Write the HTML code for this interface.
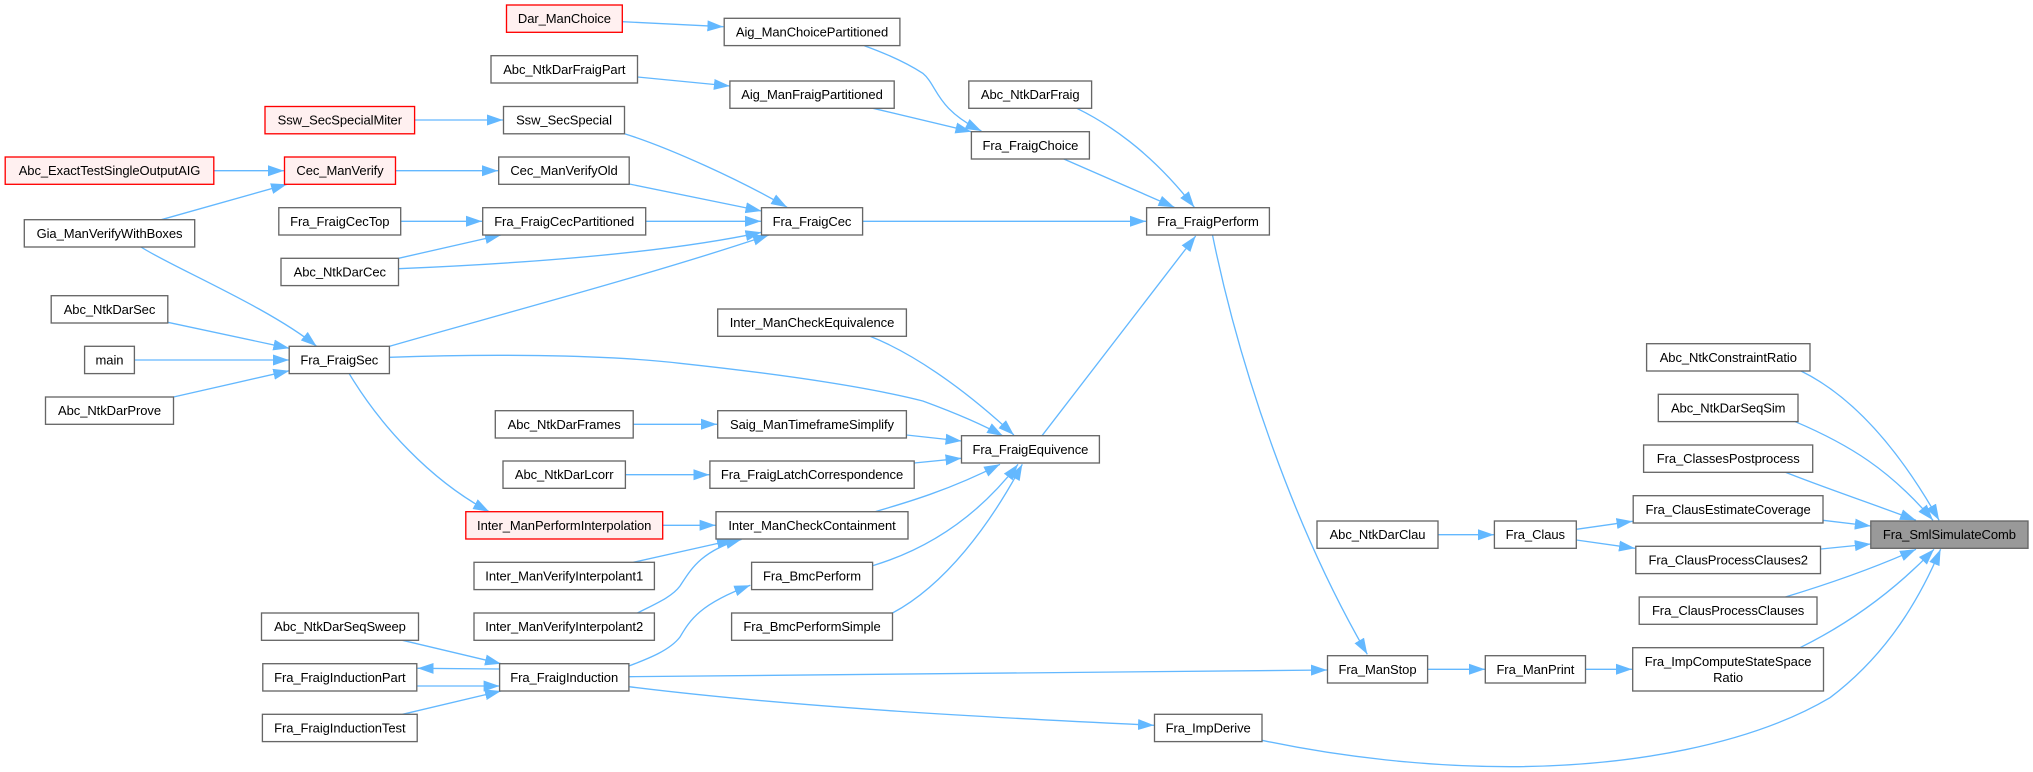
<!DOCTYPE html>
<html><head><meta charset="utf-8"><style>
html,body{margin:0;padding:0;background:#fff;width:2033px;height:772px;overflow:hidden}
svg{display:block}
text{font-family:"Liberation Sans",Arial,sans-serif;font-size:13px;letter-spacing:-.07px;fill:#000;text-anchor:middle}
.e path{fill:none;stroke:#63b8ff;stroke-width:1.33;marker-end:url(#a)}
.n rect{fill:#fff;stroke:#666;stroke-width:1.33}
.n rect.r{fill:#fff0f0;stroke:#f00}
.n rect.t{fill:#999;stroke:#666}
</style></head><body>
<svg xmlns="http://www.w3.org/2000/svg" width="2033" height="772" viewBox="0 0 2033 772">
<defs><marker id="a" markerUnits="userSpaceOnUse" markerWidth="17" markerHeight="13" refX="16" refY="6" orient="auto"><path d="M0 .5L16 6L0 11.5Z" fill="#63b8ff" stroke="none"/></marker></defs>
<g class="e">
<path d="M622.5 21.7L723.4 26.7"/>
<path d="M637.5 77L729.9 86"/>
<path d="M414.6 120L503 120"/>
<path d="M213.8 170.7L284 170.7"/>
<path d="M395.5 170.7L498 170.7"/>
<path d="M161.3 219.7L287 184.3"/>
<path d="M141 247C170 266 270 308 316.6 346.3"/>
<path d="M167.8 322.3L289.3 348.3"/>
<path d="M134.4 360L289 360"/>
<path d="M173.5 397L289.3 370.7"/>
<path d="M400.7 221.3L482 221.3"/>
<path d="M398.5 258.3L501 235"/>
<path d="M398.5 268.7C510 264 660 254 761.5 232.3"/>
<path d="M624.5 133.7C670 148 740 180 787.1 207.3"/>
<path d="M629.3 184L761.5 211"/>
<path d="M645.7 221.3L761 221.3"/>
<path d="M389.4 346.3C480 320 650 275 768.9 235"/>
<path d="M389.4 357.3C480 354 600 354 680 363.3C770 373 860 385 922.8 401C950 411 980 423 1003 436"/>
<path d="M870 336.3C910 352 960 385 1013.9 435"/>
<path d="M633.2 424.3L717 424.3"/>
<path d="M625.4 474.7L709.5 474.7"/>
<path d="M906.4 435L961.5 441"/>
<path d="M914.2 463L961.5 458.3"/>
<path d="M875.1 511.7C905 503 950 490 1000 464.3"/>
<path d="M872.6 565.7C925 550 975 520 1018 464.3"/>
<path d="M892.5 613C945 585 990 525 1022.3 464.3"/>
<path d="M1042 435.7L1195.7 236"/>
<path d="M862.6 221.3L1146 221.3"/>
<path d="M1063.8 159L1174.4 207.3"/>
<path d="M1076.8 108.3C1105 122 1150 150 1194.3 207.3"/>
<path d="M864.3 45.7C890 55 910 65 922.8 73.3C938 86 935 108 981.4 131"/>
<path d="M873 108.3L971.4 131.7"/>
<path d="M1212.5 235C1240 370 1295 530 1367.3 654.3"/>
<path d="M1427.6 669.3L1485 669.3"/>
<path d="M1585.5 669.3L1632 669.3"/>
<path d="M628.9 676.7L1327 670"/>
<path d="M628.9 686.7C800 708 1000 718 1154 725.3"/>
<path d="M1262 740.3C1340 757 1430 767 1513.5 766.7C1630 766 1750 745 1830 697.7C1880 660 1915 610 1940.6 549.3"/>
<path d="M1801 371C1860 400 1905 460 1939.1 520.3"/>
<path d="M1795.3 421.7C1850 445 1890 470 1933 520.3"/>
<path d="M1785.4 472.3C1825 488 1870 503 1916 520.3"/>
<path d="M1823 520.3L1870.8 526"/>
<path d="M1821 549L1870.8 544"/>
<path d="M1785.4 597C1825 585 1870 570 1916 549.3"/>
<path d="M1800 647.7C1850 623 1895 590 1934 549.3"/>
<path d="M1576.3 529.3L1632.5 521.3"/>
<path d="M1576.3 540L1635 548.3"/>
<path d="M1438 534.7L1494 534.7"/>
<path d="M662.7 525.3L715.6 525.3"/>
<path d="M633.2 562.3L733 540"/>
<path d="M637.5 613C655 604 672 597 680 586C690 571 700 551 741.6 539.3"/>
<path d="M628.9 666C650 658 670 650 680 637C690 620 700 604 750.3 585.3"/>
<path d="M402.5 640.3L501 663.7"/>
<path d="M499.6 669L417.6 668.3"/>
<path d="M416.8 686L499.6 686"/>
<path d="M402.5 714.3L501 691"/>
<path d="M349 373.3C380 425 430 480 489.2 511.7"/>
</g>
<g class="n">
<rect class="r" x="506.5" y="5" width="115.8" height="27.3"/><text x="564.4" y="23.2">Dar_ManChoice</text>
<rect x="491" y="55.7" width="146.5" height="27.3"/><text x="564.3" y="73.8">Abc_NtkDarFraigPart</text>
<rect class="r" x="265" y="106.5" width="149.6" height="27.3"/><text x="339.8" y="124.5">Ssw_SecSpecialMiter</text>
<rect x="503.5" y="106.5" width="121" height="27.3"/><text x="564" y="124.5">Ssw_SecSpecial</text>
<rect class="r" x="5.2" y="157" width="208.6" height="27.3"/><text x="109.5" y="175.2">Abc_ExactTestSingleOutputAIG</text>
<rect class="r" x="284.5" y="157" width="111" height="27.3"/><text x="340" y="175.2">Cec_ManVerify</text>
<rect x="498.7" y="157" width="130.5" height="27.3"/><text x="564" y="175.2">Cec_ManVerifyOld</text>
<rect x="24.3" y="219.7" width="170.4" height="27.3"/><text x="109.5" y="237.8">Gia_ManVerifyWithBoxes</text>
<rect x="278.8" y="207.7" width="121.9" height="27.3"/><text x="339.8" y="225.8">Fra_FraigCecTop</text>
<rect x="482.7" y="207.7" width="163" height="27.3"/><text x="564.2" y="225.8">Fra_FraigCecPartitioned</text>
<rect x="281" y="258.3" width="117.5" height="27.3"/><text x="339.8" y="276.5">Abc_NtkDarCec</text>
<rect x="51.2" y="295.7" width="116.6" height="27.3"/><text x="109.5" y="313.8">Abc_NtkDarSec</text>
<rect x="84.6" y="346.3" width="49.8" height="27.3"/><text x="109.5" y="364.5">main</text>
<rect x="289.2" y="346.3" width="100.2" height="27.3"/><text x="339.3" y="364.5">Fra_FraigSec</text>
<rect x="45.5" y="397" width="128" height="27.3"/><text x="109.5" y="415.2">Abc_NtkDarProve</text>
<rect x="495.3" y="410.7" width="137.9" height="27.3"/><text x="564.2" y="428.8">Abc_NtkDarFrames</text>
<rect x="503" y="461" width="122.4" height="27.3"/><text x="564.2" y="479.2">Abc_NtkDarLcorr</text>
<rect class="r" x="465.8" y="511.7" width="196.9" height="27.3"/><text x="564.2" y="529.8">Inter_ManPerformInterpolation</text>
<rect x="474" y="562.3" width="180.4" height="27.3"/><text x="564.2" y="580.5">Inter_ManVerifyInterpolant1</text>
<rect x="474" y="613" width="180.4" height="27.3"/><text x="564.2" y="631.2">Inter_ManVerifyInterpolant2</text>
<rect x="261.5" y="613" width="157" height="27.3"/><text x="340" y="631.2">Abc_NtkDarSeqSweep</text>
<rect x="262.8" y="663.7" width="154" height="27.3"/><text x="339.8" y="681.8">Fra_FraigInductionPart</text>
<rect x="499.6" y="663.7" width="129.3" height="27.3"/><text x="564.2" y="681.8">Fra_FraigInduction</text>
<rect x="262.4" y="714.3" width="154.8" height="27.3"/><text x="339.8" y="732.5">Fra_FraigInductionTest</text>
<rect x="724.2" y="18.3" width="175.7" height="27.3"/><text x="812" y="36.5">Aig_ManChoicePartitioned</text>
<rect x="729.9" y="81" width="164.3" height="27.3"/><text x="812" y="99.2">Aig_ManFraigPartitioned</text>
<rect x="968.8" y="81" width="122.8" height="27.3"/><text x="1030.2" y="99.2">Abc_NtkDarFraig</text>
<rect x="971.4" y="131.7" width="118" height="27.3"/><text x="1030.4" y="149.8">Fra_FraigChoice</text>
<rect x="761.5" y="207.7" width="101.1" height="27.3"/><text x="812" y="225.8">Fra_FraigCec</text>
<rect x="1146.6" y="207.7" width="122.8" height="27.3"/><text x="1208" y="225.8">Fra_FraigPerform</text>
<rect x="717.7" y="309" width="188.7" height="27.3"/><text x="812" y="327.2">Inter_ManCheckEquivalence</text>
<rect x="717.7" y="410.7" width="188.7" height="27.3"/><text x="812" y="428.8">Saig_ManTimeframeSimplify</text>
<rect x="709.9" y="461" width="204.3" height="27.3"/><text x="812" y="479.2">Fra_FraigLatchCorrespondence</text>
<rect x="716" y="511.7" width="192" height="27.3"/><text x="812" y="529.8">Inter_ManCheckContainment</text>
<rect x="751.6" y="562.3" width="121" height="27.3"/><text x="812" y="580.5">Fra_BmcPerform</text>
<rect x="731.6" y="613" width="160.9" height="27.3"/><text x="812" y="631.2">Fra_BmcPerformSimple</text>
<rect x="961.5" y="435.7" width="137.9" height="27.3"/><text x="1030.4" y="453.8">Fra_FraigEquivence</text>
<rect x="1317" y="521" width="121" height="27.3"/><text x="1377.5" y="539.2">Abc_NtkDarClau</text>
<rect x="1327.5" y="655.7" width="100.1" height="27.3"/><text x="1377.5" y="673.8">Fra_ManStop</text>
<rect x="1154.5" y="714.3" width="107.5" height="27.3"/><text x="1208.2" y="732.5">Fra_ImpDerive</text>
<rect x="1646.6" y="343.7" width="163.4" height="27.3"/><text x="1728.3" y="361.8">Abc_NtkConstraintRatio</text>
<rect x="1658.3" y="394.3" width="139.7" height="27.3"/><text x="1728.2" y="412.5">Abc_NtkDarSeqSim</text>
<rect x="1643.6" y="445" width="169.1" height="27.3"/><text x="1728.2" y="463.2">Fra_ClassesPostprocess</text>
<rect x="1633.2" y="495.7" width="189.8" height="27.3"/><text x="1728.1" y="513.8">Fra_ClausEstimateCoverage</text>
<rect x="1635.8" y="546.3" width="184.7" height="27.3"/><text x="1728.2" y="564.5">Fra_ClausProcessClauses2</text>
<rect x="1639.2" y="597" width="177.8" height="27.3"/><text x="1728.1" y="615.2">Fra_ClausProcessClauses</text>
<rect x="1632.7" y="647.7" width="190.8" height="43.3"/><text x="1728.1" y="665.8">Fra_ImpComputeStateSpace</text><text x="1728.1" y="682.2">Ratio</text>
<rect class="t" x="1870.8" y="521" width="157.2" height="27.3"/><text x="1949.4" y="539.2">Fra_SmlSimulateComb</text>
<rect x="1494.4" y="521" width="81.9" height="27.3"/><text x="1535.3" y="539.2">Fra_Claus</text>
<rect x="1485.3" y="655.7" width="100.2" height="27.3"/><text x="1535.4" y="673.8">Fra_ManPrint</text>
</g>
</svg>
</body></html>
